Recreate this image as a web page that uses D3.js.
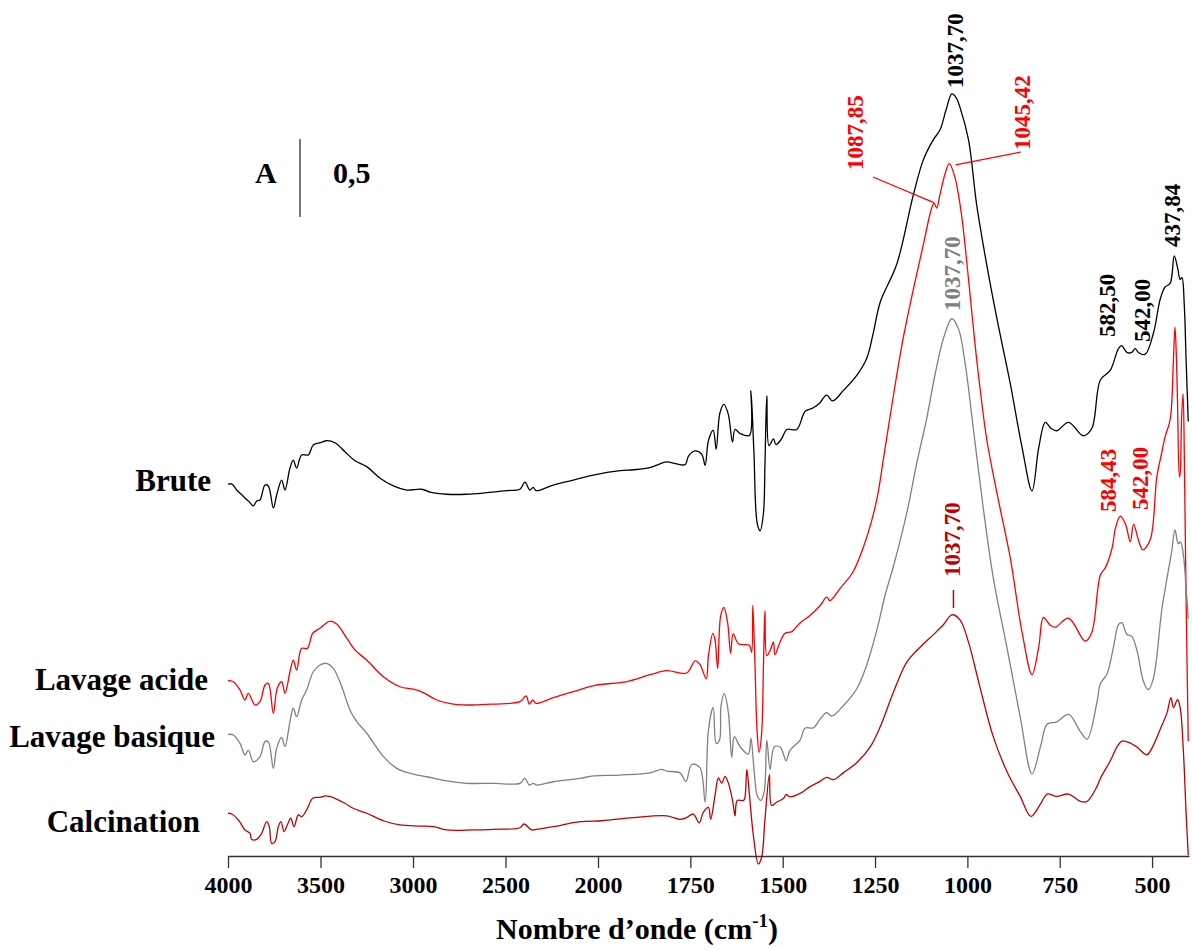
<!DOCTYPE html>
<html><head><meta charset="utf-8">
<script src="https://cdn.jsdelivr.net/npm/d3@7"></script>
<style>
html,body{margin:0;padding:0;background:#fff;}
svg text{font-family:"Liberation Serif","Times New Roman",serif;font-weight:bold;}
</style></head>
<body><svg id="chart" width="1192" height="950"></svg>
<script>
// ---------- data (wavenumber cm-1, absorbance with stacking offset) ----------
const brute = [[4000,2.383],[3980,2.385],[3953,2.346],[3930,2.320],[3908,2.295],[3885,2.270],[3863,2.244],[3845,2.275],[3827,2.282],[3800,2.378],[3782,2.372],[3755,2.231],[3737,2.314],[3710,2.410],[3692,2.346],[3665,2.487],[3647,2.538],[3629,2.487],[3602,2.571],[3566,2.571],[3539,2.635],[3500,2.650],[3466,2.662],[3422,2.649],[3368,2.592],[3314,2.534],[3250,2.496],[3178,2.421],[3106,2.372],[3034,2.346],[2953,2.351],[2908,2.333],[2818,2.319],[2710,2.319],[2602,2.329],[2494,2.342],[2422,2.351],[2395,2.396],[2368,2.346],[2350,2.363],[2335,2.342],[2242,2.378],[2134,2.410],[2025,2.442],[1940,2.470],[1904,2.476],[1860,2.490],[1814,2.526],[1790,2.515],[1764,2.509],[1755,2.564],[1737,2.597],[1719,2.575],[1710,2.504],[1701,2.663],[1688,2.729],[1680,2.608],[1670,2.840],[1659,2.895],[1647,2.829],[1636,2.653],[1629,2.734],[1615,2.708],[1590,2.696],[1586,2.983],[1578,2.597],[1569,2.133],[1561,2.085],[1552,2.200],[1548,2.509],[1543,2.950],[1537,2.630],[1525,2.674],[1518,2.637],[1503,2.674],[1489,2.734],[1462,2.734],[1439,2.851],[1417,2.873],[1399,2.906],[1381,2.954],[1365,2.917],[1336,2.983],[1299,3.083],[1272,3.193],[1255,3.350],[1236,3.550],[1191,3.795],[1146,4.241],[1119,4.464],[1092,4.592],[1074,4.655],[1058,4.780],[1042,4.885],[1030,4.860],[1020,4.799],[997,4.592],[975,4.177],[948,3.795],[920,3.444],[884,3.029],[852,2.620],[825,2.340],[807,2.614],[789,2.780],[773,2.740],[758,2.726],[726,2.780],[686,2.694],[663,2.742],[640,3.051],[613,3.114],[591,3.253],[582,3.271],[568,3.228],[555,3.228],[546,3.253],[537,3.228],[519,3.215],[496,3.354],[478,3.569],[465,3.646],[451,3.671],[440,3.847],[431,3.772],[424,3.696],[419,3.708],[413,3.544],[408,3.190],[402,2.785]];

const lavageAcide = [[4000,1.124],[3971,1.117],[3935,1.064],[3908,1.000],[3890,1.043],[3854,0.968],[3827,0.989],[3800,1.096],[3782,1.107],[3755,0.915],[3734,1.075],[3710,1.117],[3692,1.043],[3665,1.181],[3647,1.256],[3629,1.192],[3602,1.331],[3571,1.331],[3542,1.428],[3503,1.460],[3449,1.506],[3412,1.487],[3358,1.396],[3314,1.321],[3250,1.256],[3160,1.149],[3070,1.085],[2998,1.069],[2944,1.047],[2872,1.000],[2782,0.974],[2674,0.968],[2566,0.974],[2422,0.989],[2389,1.026],[2371,0.974],[2353,1.000],[2335,0.979],[2242,1.015],[2134,1.053],[2016,1.094],[1922,1.118],[1859,1.162],[1814,1.188],[1760,1.173],[1737,1.251],[1724,1.228],[1707,1.136],[1701,1.284],[1689,1.427],[1683,1.383],[1676,1.202],[1668,1.538],[1659,1.593],[1649,1.494],[1641,1.299],[1634,1.423],[1620,1.361],[1590,1.350],[1584,1.306],[1581,1.608],[1575,1.228],[1570,0.831],[1564,0.665],[1557,0.787],[1552,1.228],[1548,1.571],[1543,1.284],[1534,1.317],[1525,1.372],[1521,1.290],[1507,1.372],[1494,1.427],[1475,1.438],[1453,1.494],[1426,1.542],[1399,1.604],[1381,1.659],[1372,1.637],[1345,1.714],[1309,1.824],[1272,2.046],[1245,2.288],[1227,2.550],[1200,2.955],[1174,3.316],[1146,3.635],[1119,3.922],[1097,4.151],[1090,4.185],[1083,4.154],[1074,4.241],[1061,4.369],[1049,4.438],[1034,4.353],[1016,4.113],[997,3.699],[975,3.188],[948,2.678],[920,2.327],[884,1.913],[852,1.435],[825,1.163],[807,1.338],[794,1.530],[776,1.480],[762,1.467],[726,1.524],[681,1.377],[663,1.435],[640,1.801],[626,1.850],[608,1.976],[599,2.103],[586,2.179],[572,2.128],[559,2.014],[550,2.128],[537,2.027],[525,1.963],[505,2.027],[487,2.431],[474,2.583],[465,2.685],[451,2.798],[442,3.190],[438,3.392],[434,3.190],[431,2.900],[426,2.431],[424,2.450],[420,2.811],[416,2.963],[412,2.431],[408,1.673],[402,0.737]];

const lavageBasique = [[4000,0.780],[3971,0.776],[3935,0.722],[3908,0.647],[3890,0.679],[3863,0.604],[3827,0.637],[3800,0.733],[3782,0.733],[3755,0.562],[3737,0.690],[3710,0.761],[3692,0.701],[3665,0.861],[3647,0.947],[3629,0.893],[3602,1.000],[3575,1.064],[3539,1.181],[3503,1.224],[3470,1.235],[3431,1.203],[3385,1.085],[3341,0.936],[3304,0.861],[3250,0.787],[3160,0.637],[3088,0.562],[3016,0.530],[2926,0.508],[2818,0.481],[2710,0.466],[2566,0.466],[2422,0.466],[2395,0.498],[2371,0.455],[2350,0.466],[2332,0.455],[2242,0.476],[2097,0.498],[2025,0.513],[1940,0.519],[1859,0.533],[1828,0.555],[1814,0.544],[1778,0.533],[1762,0.478],[1746,0.588],[1724,0.566],[1710,0.346],[1701,0.809],[1688,0.953],[1680,0.721],[1671,0.743],[1667,0.963],[1658,1.041],[1647,0.919],[1638,0.633],[1631,0.765],[1615,0.699],[1593,0.654],[1586,0.754],[1578,0.566],[1569,0.390],[1559,0.356],[1550,0.412],[1543,0.743],[1534,0.555],[1523,0.699],[1507,0.699],[1498,0.654],[1491,0.610],[1480,0.677],[1453,0.743],[1439,0.821],[1417,0.821],[1399,0.876],[1381,0.919],[1367,0.897],[1336,0.963],[1299,1.074],[1272,1.228],[1245,1.449],[1223,1.670],[1200,1.859],[1164,2.200],[1137,2.519],[1110,2.806],[1087,3.093],[1065,3.316],[1042,3.444],[1024,3.379],[1006,3.156],[984,2.742],[957,2.231],[930,1.785],[893,1.338],[857,0.892],[825,0.526],[802,0.701],[784,0.844],[758,0.860],[726,0.908],[694,0.797],[676,0.749],[649,0.988],[640,1.104],[622,1.167],[604,1.344],[591,1.483],[582,1.496],[568,1.420],[555,1.408],[541,1.319],[523,1.117],[510,1.066],[496,1.142],[474,1.572],[460,1.774],[447,1.951],[438,2.090],[429,2.002],[423,2.014],[415,1.926],[408,1.724],[402,1.521]];

const calcination = [[4000,0.274],[3980,0.269],[3944,0.231],[3908,0.167],[3881,0.146],[3872,0.107],[3845,0.107],[3818,0.146],[3791,0.220],[3777,0.188],[3764,0.081],[3746,0.092],[3728,0.188],[3714,0.220],[3697,0.156],[3683,0.188],[3661,0.242],[3643,0.188],[3620,0.263],[3602,0.252],[3575,0.295],[3542,0.370],[3503,0.376],[3470,0.385],[3422,0.370],[3368,0.338],[3323,0.306],[3250,0.274],[3160,0.226],[3070,0.199],[2962,0.192],[2890,0.188],[2818,0.167],[2674,0.167],[2566,0.171],[2422,0.181],[2400,0.205],[2358,0.167],[2332,0.171],[2242,0.188],[2097,0.220],[1989,0.226],[1904,0.246],[1814,0.257],[1778,0.235],[1760,0.246],[1742,0.269],[1726,0.213],[1715,0.279],[1701,0.312],[1695,0.235],[1683,0.390],[1674,0.500],[1665,0.467],[1656,0.511],[1647,0.467],[1635,0.346],[1629,0.257],[1623,0.356],[1606,0.356],[1602,0.379],[1597,0.555],[1590,0.390],[1579,0.125],[1566,-0.051],[1557,-0.008],[1548,0.235],[1536,0.522],[1530,0.324],[1516,0.346],[1498,0.368],[1491,0.394],[1480,0.379],[1453,0.401],[1426,0.445],[1399,0.478],[1381,0.504],[1363,0.489],[1336,0.533],[1299,0.599],[1263,0.699],[1236,0.828],[1200,1.051],[1164,1.243],[1128,1.338],[1092,1.419],[1065,1.482],[1042,1.546],[1020,1.514],[997,1.371],[966,1.083],[930,0.765],[893,0.542],[857,0.382],[828,0.254],[802,0.334],[784,0.397],[758,0.382],[726,0.397],[694,0.350],[676,0.350],[649,0.446],[640,0.497],[613,0.611],[595,0.699],[582,0.737],[559,0.724],[541,0.699],[514,0.649],[496,0.712],[478,0.813],[460,0.914],[449,1.015],[442,0.952],[431,1.003],[424,0.952],[415,0.662],[408,0.282],[402,0.004]];

const seriesNames = ["Brute","Lavage acide","Lavage basique","Calcination"];
const majorTicks = [4000,3500,3000,2500,2000,1750,1500,1250,1000,750,500];
const minorTicks = d3.range(4000,2000,-100).concat(d3.range(2000,399,-50));
const peakLabels = ["1037,70","1087,85","1045,42","1037,70","582,50","542,00","437,84","584,43","542,00","1037,70"];
const scaleBarValue = 0.5;

// ---------- layout ----------
const svg = d3.select("#chart");
const x = d3.scaleLinear().domain([4000,2000,400]).range([228,598,1189]);
const y = d3.scaleLinear().domain([0,1]).range([856,700]);
const axisY = 856;

const colors = ["#000000","#ff0000","#808080","#c00000"];
const allSeries = [brute, lavageAcide, lavageBasique, calcination];

const line = d3.line().x(d=>x(d[0])).y(d=>y(d[1])).curve(d3.curveCatmullRom.alpha(0.5));

// axis
const gAxis = svg.append("g").attr("transform",`translate(0,${axisY})`);
gAxis.call(d3.axisBottom(x).tickValues(minorTicks).tickSize(6).tickSizeOuter(0).tickFormat(""))
  .call(g=>g.select(".domain").remove());
gAxis.call(d3.axisBottom(x).tickValues(majorTicks).tickSize(12).tickSizeOuter(0).tickFormat(d3.format("d")));
gAxis.selectAll("line").attr("stroke","#333").attr("stroke-width",1.3);
gAxis.select(".domain").attr("stroke","#333").attr("stroke-width",1.5);
gAxis.selectAll("text").attr("font-size",24).attr("fill","#000")
  .attr("font-family","'Liberation Serif','Times New Roman',serif").attr("font-weight","bold")
  .attr("dy",null).attr("y",37);

// axis title
const title = svg.append("text").attr("x",637).attr("y",939).attr("text-anchor","middle")
  .attr("font-size",30).attr("fill","#000");
title.append("tspan").text("Nombre d\u2019onde (cm");
title.append("tspan").text("-1").attr("font-size",19).attr("dy",-12);
title.append("tspan").text(")").attr("dy",12);

// spectra
svg.append("g").selectAll("path").data(allSeries).join("path")
  .attr("d",line).attr("fill","none")
  .attr("stroke",(d,i)=>colors[i]).attr("stroke-width",1.3).attr("stroke-linejoin","round");

// series labels
const labelPos = [[211,491],[208,690],[215,747],[200,832]];
svg.append("g").selectAll("text").data(seriesNames).join("text")
  .attr("x",(d,i)=>labelPos[i][0]).attr("y",(d,i)=>labelPos[i][1])
  .attr("text-anchor","end").attr("font-size",31).attr("fill","#000").text(d=>d);

// scale bar
const barTop = 139;
const barLen = y(0) - y(scaleBarValue);
svg.append("line").attr("x1",300).attr("x2",300).attr("y1",barTop).attr("y2",barTop+barLen)
  .attr("stroke","#333").attr("stroke-width",1.3);
svg.append("text").attr("x",255).attr("y",183).attr("font-size",30).attr("fill","#000").text("A");
svg.append("text").attr("x",333).attr("y",183).attr("font-size",30).attr("fill","#000").text(String(scaleBarValue).replace(".",","));

// peak annotations (rotated)
const annPos = [
  {bx:963, by:88,  c:"#000000"},
  {bx:863, by:170, c:"#ff0000"},
  {bx:1030,by:150, c:"#ff0000"},
  {bx:960, by:311, c:"#808080"},
  {bx:1115,by:337, c:"#000000"},
  {bx:1150,by:342, c:"#000000"},
  {bx:1180,by:247, c:"#000000"},
  {bx:1116,by:512, c:"#ff0000"},
  {bx:1148,by:510, c:"#ff0000"},
  {bx:960, by:577, c:"#c00000"}
];
svg.append("g").selectAll("text").data(peakLabels).join("text")
  .attr("transform",(d,i)=>`translate(${annPos[i].bx},${annPos[i].by}) rotate(-90)`)
  .attr("font-size",23).attr("fill",(d,i)=>annPos[i].c).text(d=>d);

// leader lines
const leaders = [
  {wn:1087.85, s:1, x1:873, y1:177, dy:-2},
  {wn:1045.42, s:1, x1:1021, y1:152, dy:-2}
];
function valAt(series, wn){
  for(let i=0;i<series.length-1;i++){
    const a=series[i], b=series[i+1];
    if(a[0]>=wn && b[0]<=wn){ const t=(a[0]-wn)/(a[0]-b[0]); return a[1]+t*(b[1]-a[1]); }
  }
  return series[series.length-1][1];
}
leaders.forEach(l=>{
  const px = x(l.wn), py = y(valAt(allSeries[l.s], l.wn));
  svg.append("line").attr("x1",l.x1).attr("y1",l.y1).attr("x2",px+ (l.wn>1060?-1:5)).attr("y2",py+l.dy)
    .attr("stroke","#ff0000").attr("stroke-width",1.2);
});
// tick mark above calcination peak
const cpx = x(1037.7);
svg.append("line").attr("x1",cpx).attr("x2",cpx).attr("y1",590).attr("y2",608)
  .attr("stroke","#c00000").attr("stroke-width",1.5);
</script></body></html>
